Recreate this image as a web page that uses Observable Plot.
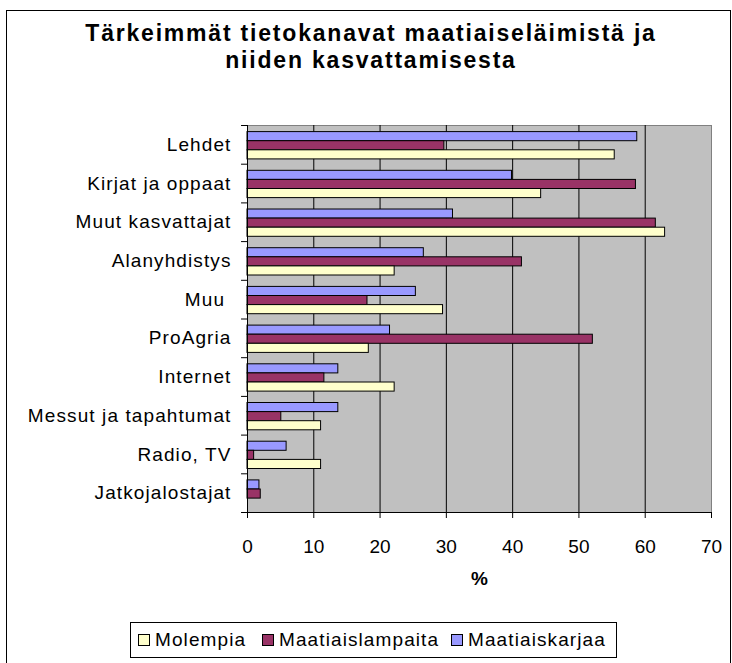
<!DOCTYPE html>
<html><head><meta charset="utf-8">
<script src="https://cdn.jsdelivr.net/npm/d3@7"></script>
<script src="https://cdn.jsdelivr.net/npm/@observablehq/plot@0.6"></script>
<style>
html,body{margin:0;padding:0;background:#fff;}
body{width:732px;height:663px;overflow:hidden;position:relative;font-family:"Liberation Sans",Arial,sans-serif;color:#000;}
#frame{position:absolute;left:6px;top:10px;width:725px;height:720px;border:1px solid #000;box-sizing:border-box;}
#title{position:absolute;left:0;width:742px;top:20px;text-align:center;font-weight:bold;font-size:23px;line-height:27px;letter-spacing:1.8px;}
#chart{position:absolute;left:0;top:0;}
#chart svg{font-family:"Liberation Sans",Arial,sans-serif !important;font-size:19px !important;overflow:visible;}
#chart svg text{white-space:pre;}
#chart svg g[aria-label="y-axis tick label"] text{letter-spacing:1.1px;}
#legend{position:absolute;left:130px;top:622px;width:487px;height:36px;border:1px solid #000;box-sizing:border-box;font-size:19px;letter-spacing:1.1px;}
.item{position:absolute;top:0;height:34px;display:flex;align-items:center;}
.sw{width:12px;height:12px;border:1px solid #000;box-sizing:border-box;margin-right:5px;}
</style></head>
<body>
<div id="frame"></div>
<div id="title">Tärkeimmät tietokanavat maatiaiseläimistä ja<br>niiden kasvattamisesta</div>
<div id="chart"></div>
<div id="legend"></div>
<script>
const categories = ["Lehdet","Kirjat ja oppaat","Muut kasvattajat","Alanyhdistys","Muu ","ProAgria","Internet","Messut ja tapahtumat","Radio, TV","Jatkojalostajat"];
const seriesNames = ["Maatiaiskarjaa","Maatiaislampaita","Molempia"];
const legendOrder = ["Molempia","Maatiaislampaita","Maatiaiskarjaa"];
const karjaa   = [58.8, 39.9, 31.0, 26.6, 25.4, 21.5, 13.7, 13.7, 5.9, 1.8];
const lampaita = [29.7, 58.6, 61.6, 41.4, 18.1, 52.1, 11.6, 5.1, 1.0, 2.0];
const molempia = [55.4, 44.3, 63.0, 22.2, 29.5, 18.3, 22.2, 11.1, 11.1, 0];
const xTicks = [0,10,20,30,40,50,60,70];
const gridTicks = [10,20,30,40,50,60];
const colors = {"Maatiaiskarjaa":"#9999ff","Maatiaislampaita":"#993366","Molempia":"#ffffcc"};

const valuesBySeries = {"Maatiaiskarjaa":karjaa,"Maatiaislampaita":lampaita,"Molempia":molempia};
const rows = categories.flatMap((c,i)=>seriesNames.map(s=>({category:c, series:s, value:valuesBySeries[s][i]})));

const W = 732, H = 600, mT = 125, mB = 88, mL = 247, mR = 21;
const bw = (H - mT - mB) / categories.length;
const barH = 9.1, off0 = 6.6;

const barMarks = seriesNames.map((s,k)=>Plot.barX(rows.filter(d=>d.series===s && d.value>0), {
  x:"value", y:"category", fill: colors[s], stroke:"#000", strokeWidth:1,
  insetTop: off0 + k*barH, insetBottom: bw - off0 - (k+1)*barH
}));

const chart = Plot.plot({
  width: W, height: H, marginTop: mT, marginBottom: mB, marginLeft: mL, marginRight: mR,
  x: {domain:[0,70], ticks: xTicks},
  y: {domain: categories, padding: 0, round: false},
  marks: [
    Plot.frame({fill:"#c0c0c0", stroke:"#808080"}),
    Plot.ruleX(gridTicks, {stroke:"#000", strokeWidth:1}),
    ...barMarks,
    Plot.ruleX([0], {stroke:"#000"}),
    Plot.ruleY([categories[categories.length-1]], {dy: bw/2, x1: -0.9, x2: 70, stroke:"#000"}),
    Plot.ruleY(categories, {y: d=>d, dy: -bw/2, x1: -0.9, x2: 0, stroke:"#000"}),
    Plot.axisX({ticks: xTicks, tickSize: 6, tickPadding: 21, label: null, tickFormat: d=>String(d)}),
    Plot.axisY({tickSize: 0, tickPadding: 16, label: null}),
    Plot.text(["%"], {text: d=>d, frameAnchor:"bottom", dy: 72, fontWeight:"bold"})
  ]
});
document.getElementById("chart").appendChild(chart);

const legendX = {"Molempia":7, "Maatiaislampaita":131, "Maatiaiskarjaa":320};
const lg = document.getElementById("legend");
legendOrder.forEach(s=>{
  const it = document.createElement("div"); it.className="item"; it.style.left = legendX[s] + "px";
  const sw = document.createElement("div"); sw.className="sw"; sw.style.background = colors[s];
  const t = document.createElement("span"); t.textContent = s;
  it.appendChild(sw); it.appendChild(t); lg.appendChild(it);
});
</script>
</body></html>
